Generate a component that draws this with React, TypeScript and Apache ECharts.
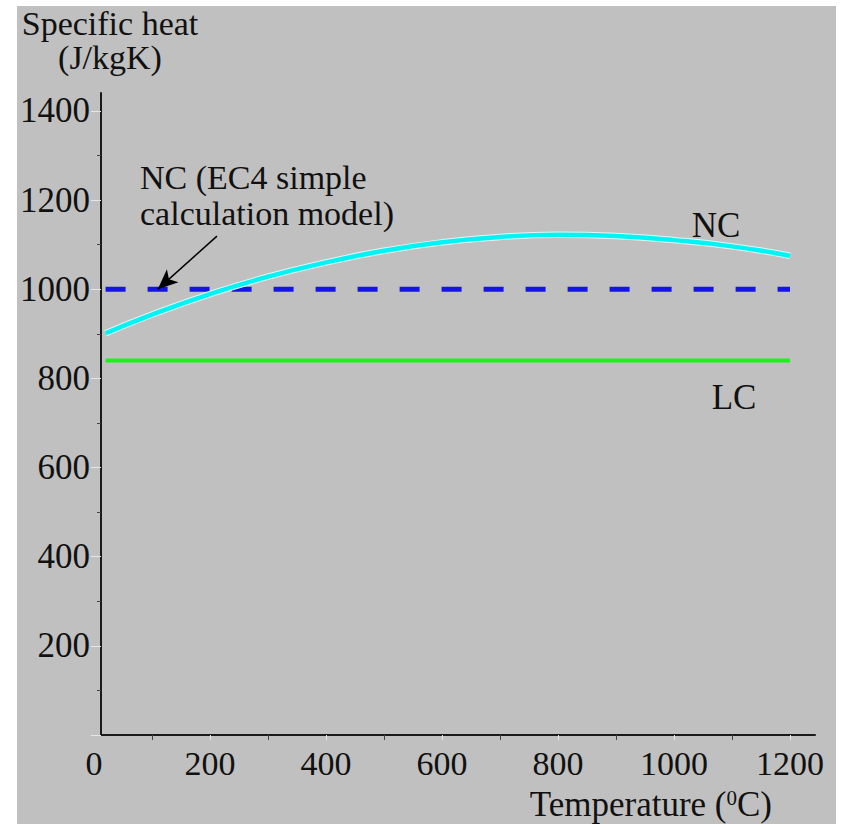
import { useEffect, useRef } from "react";
import * as echarts from "echarts";

// Temperature (°C) and specific heat (J/kgK) of normal-weight concrete
const temperatures = [20, 100, 200, 300, 400, 500, 600, 700, 800, 900, 1000, 1100, 1200];
const ncSpecificHeat = [901, 943, 989, 1028, 1060, 1086, 1105, 1117, 1122, 1119, 1110, 1096, 1075];

// Constant values over the same temperature range
const constRange = [20, 1200];
const ec4SimpleSpecificHeat = 1000;
const lcSpecificHeat = 840;

// Axis ticks
const xTicks = [0, 200, 400, 600, 800, 1000, 1200];
const xMajorTicks = [200, 400, 600, 800, 1000, 1200];
const xMinorTicks = [100, 300, 500, 700, 900, 1100];
const yTicks = [0, 200, 400, 600, 800, 1000, 1200, 1400];
const yTickLabels = [200, 400, 600, 800, 1000, 1200, 1400];
const yMinorTicks = [100, 300, 500, 700, 900, 1100, 1300];

// Annotation arrow, in data coordinates
const arrowFrom = [212, 1119];
const arrowTo = [110, 1000];

const W = 855;
const H = 824;
const SERIF = "Liberation Serif";
const INK = "#111111";

export default function App() {
  const ref = useRef<HTMLDivElement>(null);

  useEffect(() => {
    if (!ref.current) return;
    const chart = echarts.init(ref.current, null, { renderer: "svg" });

    const yMax = 1440;
    const plain = (v: number) => String(v);

    chart.setOption({
      animation: false,
      backgroundColor: "#ffffff",
      grid: [
        { left: 94, right: W - 790, top: 93, bottom: H - 735 },
        { left: 101, right: W - 815, top: 93, bottom: H - 735 },
      ],
      xAxis: [
        {
          type: "value",
          gridIndex: 0,
          position: "bottom",
          min: 0,
          max: 1200,
          axisLine: { show: false },
          splitLine: { show: false },
          axisTick: {
            show: true,
            customValues: xMajorTicks,
            length: 5,
            lineStyle: { color: "#e6e6e6", width: 1 },
          },
          axisLabel: {
            fontFamily: SERIF,
            fontSize: 34,
            color: INK,
            customValues: xTicks,
            margin: 11,
            formatter: plain,
          },
        },
        {
          type: "value",
          gridIndex: 0,
          position: "bottom",
          min: 0,
          max: 1200,
          axisLine: { show: false },
          splitLine: { show: false },
          axisTick: {
            show: true,
            customValues: xMinorTicks,
            length: 5,
            lineStyle: { color: "#444444", width: 1 },
          },
          axisLabel: { show: false },
        },
        {
          type: "value",
          gridIndex: 1,
          position: "bottom",
          min: 0,
          max: 1,
          axisLine: { show: true, lineStyle: { color: "#1a1a1a", width: 2 } },
          axisTick: { show: false },
          axisLabel: { show: false },
          splitLine: { show: false },
          name: "Temperature ({sup|0}C)",
          nameLocation: "end",
          nameGap: 0,
          nameTextStyle: {
            fontFamily: SERIF,
            fontSize: 35,
            color: INK,
            align: "right",
            verticalAlign: "top",
            padding: [52, 43, 0, 0],
            rich: {
              sup: {
                fontFamily: SERIF,
                fontSize: 21,
                color: INK,
                verticalAlign: "top",
              },
            },
          },
        },
      ],
      yAxis: [
        {
          type: "value",
          gridIndex: 0,
          min: 0,
          max: yMax,
          show: false,
        },
        {
          type: "value",
          gridIndex: 1,
          position: "left",
          min: 0,
          max: yMax,
          axisLine: { show: true, lineStyle: { color: "#1a1a1a", width: 2 } },
          splitLine: { show: false },
          axisTick: {
            show: true,
            customValues: yTicks,
            length: 10,
            lineStyle: { color: "#e6e6e6", width: 1 },
          },
          axisLabel: {
            fontFamily: SERIF,
            fontSize: 35,
            color: INK,
            customValues: yTickLabels,
            margin: 11,
            formatter: plain,
          },
          name: "Specific heat\n(J/kgK)",
          nameLocation: "end",
          nameGap: 19,
          nameTextStyle: {
            fontFamily: SERIF,
            fontSize: 34,
            lineHeight: 34,
            color: INK,
            align: "center",
            verticalAlign: "bottom",
            padding: [0, 0, 0, 18],
          },
        },
        {
          type: "value",
          gridIndex: 1,
          position: "left",
          min: 0,
          max: yMax,
          axisLine: { show: false },
          splitLine: { show: false },
          axisTick: {
            show: true,
            customValues: yMinorTicks,
            length: 4,
            lineStyle: { color: "#444444", width: 1 },
          },
          axisLabel: { show: false },
        },
      ],
      series: [
        {
          name: "LC",
          type: "line",
          xAxisIndex: 0,
          yAxisIndex: 0,
          data: constRange.map((t) => [t, lcSpecificHeat]),
          showSymbol: false,
          lineStyle: { color: "#1ef01e", width: 4 },
          z: 3,
        },
        {
          name: "NC (EC4 simple calculation model)",
          type: "line",
          xAxisIndex: 0,
          yAxisIndex: 0,
          data: constRange.map((t) => [t, ec4SimpleSpecificHeat]),
          showSymbol: false,
          lineStyle: { color: "#1414e6", width: 5, type: [20, 22], cap: "butt" },
          z: 3,
          markLine: {
            silent: true,
            symbol: ["none", "arrow"],
            symbolSize: [13, 20],
            label: { show: false },
            lineStyle: { color: "#000000", width: 1.5, type: "solid" },
            data: [[{ coord: arrowFrom }, { coord: arrowTo }]],
          },
        },
        {
          name: "NC outline",
          type: "line",
          xAxisIndex: 0,
          yAxisIndex: 0,
          data: temperatures.map((t, i) => [t, ncSpecificHeat[i]]),
          smooth: true,
          showSymbol: false,
          lineStyle: { color: "#dff7f7", width: 6.5 },
          z: 4,
        },
        {
          name: "NC",
          type: "line",
          xAxisIndex: 0,
          yAxisIndex: 0,
          data: temperatures.map((t, i) => [t, ncSpecificHeat[i]]),
          smooth: true,
          showSymbol: false,
          lineStyle: { color: "#00f4f4", width: 4.5 },
          z: 5,
        },
      ],
      graphic: [
        {
          type: "rect",
          z: -10,
          silent: true,
          shape: { x: 17, y: 6, width: 819, height: H - 6 },
          style: { fill: "#c0c0c0" },
        },
        {
          type: "text",
          x: 140,
          y: 159,
          style: {
            text: "NC (EC4 simple\ncalculation model)",
            fontFamily: SERIF,
            fontSize: 34,
            lineHeight: 36,
            fill: INK,
            align: "left",
            verticalAlign: "top",
          },
        },
        {
          type: "text",
          x: 716,
          y: 208,
          style: {
            text: "NC",
            fontFamily: SERIF,
            fontSize: 35,
            fill: INK,
            align: "center",
            verticalAlign: "top",
          },
        },
        {
          type: "text",
          x: 734,
          y: 380,
          style: {
            text: "LC",
            fontFamily: SERIF,
            fontSize: 35,
            fill: INK,
            align: "center",
            verticalAlign: "top",
          },
        },
      ],
    });

    return () => chart.dispose();
  }, []);

  return (
    <div style={{ position: "fixed", left: 0, top: 0, width: W, height: H, background: "#ffffff" }}>
      <div ref={ref} style={{ width: W, height: H }} />
    </div>
  );
}
